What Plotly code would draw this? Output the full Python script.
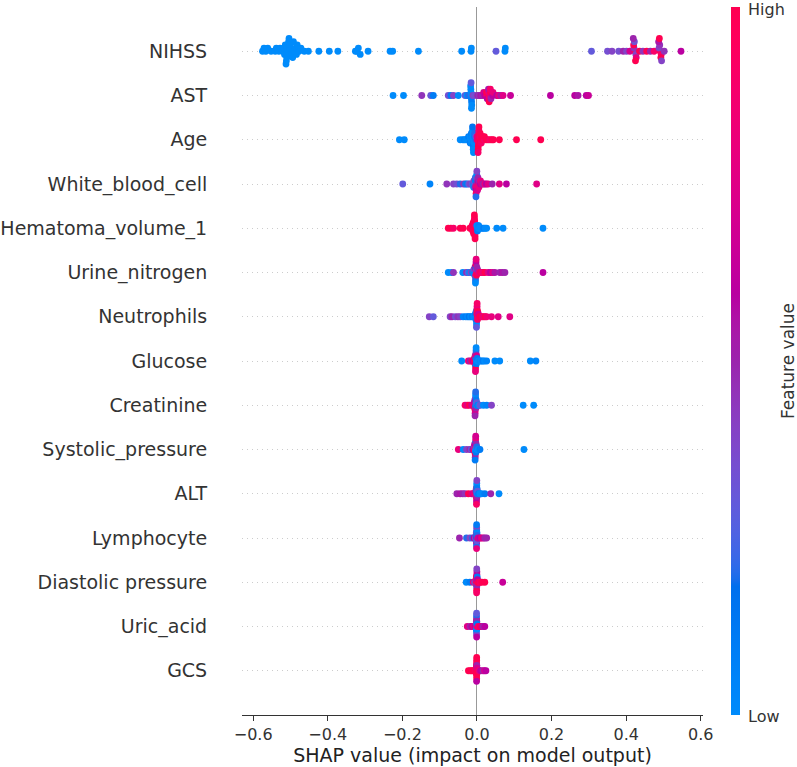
import numpy as np
import plotly.graph_objects as go

# ---------------- data ----------------
features = ["NIHSS", "AST", "Age", "White_blood_cell", "Hematoma_volume_1",
            "Urine_nitrogen", "Neutrophils", "Glucose", "Creatinine",
            "Systolic_pressure", "ALT", "Lymphocyte", "Diastolic pressure",
            "Uric_acid", "GCS"]

x_ticks = [-0.6, -0.4, -0.2, 0.0, 0.2, 0.4, 0.6]

nihss_shap = [-0.575, -0.571, -0.566, -0.561, -0.552, -0.541, -0.538, -0.531, -0.528,
              -0.521, -0.518, -0.516, -0.514,
              -0.508, -0.507, -0.509, -0.506, -0.510, -0.505, -0.511, -0.504, -0.512,
              -0.497, -0.499, -0.495, -0.501, -0.494, -0.492,
              -0.489, -0.486, -0.484, -0.482, -0.477, -0.472, -0.463, -0.452,
              -0.424, -0.396, -0.373, -0.326, -0.322, -0.318, -0.313, -0.292, -0.233, -0.226,
              -0.157, -0.041, -0.016, -0.015, 0.051, 0.075, 0.076,
              0.307, 0.350, 0.362, 0.380, 0.392, 0.401, 0.410,
              0.4236, 0.421, 0.426, 0.420, 0.427, 0.422, 0.425, 0.419,
              0.436, 0.445, 0.455, 0.465, 0.475,
              0.491, 0.488, 0.494, 0.490, 0.493, 0.487, 0.495, 0.489,
              0.502, 0.547]
nihss_val = [0, 0, 0, 0, 0, 0, 0, 0, 0,
             0, 0, 0, 0,
             0, 0, 0, 0, 0, 0, 0, 0, 0,
             0, 0, 0, 0, 0, 0,
             0, 0, 0, 0, 0, 0, 0, 0,
             0, 0, 0, 0, 0, 0, 0, 0, 0, 0,
             0, 0, 0, 0, 0.3, 0, 0,
             0.3, 0.35, 0.4, 0.35, 0.5, 0.4, 0.7,
             1.0, 0.45, 0.4, 1.0, 0.8, 0.35, 1.0, 0.5,
             1.0, 0.45, 1.0, 0.5, 0.9,
             1.0, 0.4, 0.9, 0.45, 1.0, 0.55, 0.4, 1.0,
             0.45, 0.6]

ast_shap = [-0.225, -0.197, -0.148, -0.124, -0.117, -0.077, -0.070, -0.063, -0.050, -0.032, -0.027, -0.023,
            -0.0154, -0.0160, -0.0150, -0.0165, -0.0145, -0.0170, -0.0140, -0.0158, -0.0148,
            -0.011, -0.007,
            0.002, 0.006, 0.010, 0.014, 0.018, 0.021,
            0.0265, 0.0255, 0.0275,
            0.0318, 0.0312, 0.0324, 0.0308, 0.0328,
            0.0370, 0.0365, 0.0375, 0.0360,
            0.0422, 0.0430,
            0.053, 0.058, 0.064, 0.070, 0.090, 0.197, 0.262, 0.271, 0.293, 0.299]
ast_val = [0.0, 0.0, 0.45, 0.3, 0.1, 0.35, 0.1, 0.4, 0.0, 0.3, 0.0, 0.2,
           0.0, 0.0, 0.05, 0.0, 0.1, 0.0, 0.0, 0.3, 0.0,
           0.4, 0.35,
           0.5, 0.45, 0.55, 0.5, 0.7, 0.6,
           0.9, 1.0, 0.6,
           1.0, 0.8, 0.9, 0.55, 1.0,
           0.7, 1.0, 0.5, 0.9,
           0.6, 0.8,
           0.6, 0.8, 0.55, 0.75, 0.65, 0.6, 0.6, 0.55, 0.6, 0.65]

age_shap = [-0.208, -0.195,
            -0.045, -0.038, -0.034, -0.030, -0.026,
            -0.0223, -0.0226,
            -0.0185, -0.0188, -0.0182,
            -0.0147, -0.0150, -0.0143, -0.0152,
            -0.0109, -0.0112, -0.0106, -0.0115, -0.0103, -0.0118, -0.0100, -0.0120, -0.0095,
            -0.0071, -0.0068, -0.0075, -0.0065,
            -0.0033, -0.0030,
            0.0005, 0.0000,
            0.0042, 0.0045, 0.0039, 0.0048, 0.0036, 0.0050, 0.0033, 0.0053, 0.0030,
            0.0080, 0.0083, 0.0078, 0.0086,
            0.0118, 0.0120, 0.0115,
            0.0155, 0.0160, 0.0195, 0.0200,
            0.025, 0.030, 0.035, 0.040, 0.044,
            0.060, 0.106, 0.171]
age_val = [0.0, 0.0,
           0.0, 0.0, 0.05, 0.0, 0.0,
           0.0, 0.1,
           0.0, 0.0, 0.1,
           0.0, 0.05, 0.0, 0.1,
           0.0, 0.0, 0.05, 0.0, 0.1, 0.0, 0.0, 0.15, 0.0,
           0.0, 0.1, 0.0, 0.2,
           0.2, 0.3,
           0.8, 0.7,
           1.0, 1.0, 0.9, 1.0, 1.0, 0.85, 1.0, 1.0, 0.9,
           1.0, 0.9, 1.0, 1.0,
           1.0, 1.0, 0.9,
           1.0, 1.0, 0.9, 1.0,
           1.0, 1.0, 0.9, 1.0, 1.0,
           1.0, 1.0, 1.0]

wbc_shap = [-0.199, -0.126, -0.081, -0.063, -0.054, -0.045, -0.036, -0.031, -0.027, -0.022, -0.018, -0.013,
            -0.0088, -0.0085, -0.0091,
            -0.0050, -0.0047, -0.0053, -0.0044,
            -0.0015, -0.0012, -0.0018, -0.0009, -0.0021, -0.0006, -0.0024, -0.0003, -0.0027,
            0.0020, 0.0023, 0.0017, 0.0026, 0.0014,
            0.0056, 0.0059, 0.0053,
            0.0092, 0.0095,
            0.013, 0.017, 0.021, 0.025, 0.030,
            0.041, 0.060, 0.079, 0.160]
wbc_val = [0.3, 0.05, 0.45, 0.4, 0.35, 0.2, 0.45, 0.2, 0.1, 0.3, 0.4, 0.3,
           0.2, 0.4, 0.0,
           0.3, 0.1, 0.5, 0.2,
           0.5, 0.1, 0.8, 0.3, 0.6, 0.0, 0.9, 0.4, 0.2,
           0.8, 0.6, 0.9, 0.5, 0.7,
           0.7, 0.5, 0.8,
           0.6, 0.8,
           0.7, 0.5, 0.8, 0.6, 0.75,
           0.5, 0.75, 0.6, 0.75]

hem_shap = [-0.077, -0.070, -0.063, -0.045, -0.037,
            -0.019, -0.016,
            -0.0135, -0.0132,
            -0.0110, -0.0107, -0.0113, -0.0104,
            -0.0085, -0.0082, -0.0088, -0.0079, -0.0091, -0.0076,
            -0.0059, -0.0061, -0.0057, -0.0063, -0.0055, -0.0065, -0.0053, -0.0067, -0.0051, -0.0069,
            -0.0033, -0.0030, -0.0036,
            -0.0008, -0.0005,
            0.0017, 0.0020, 0.0014,
            0.0043, 0.0046,
            0.0070, 0.010, 0.014, 0.018, 0.022, 0.026,
            0.053, 0.070, 0.177]
hem_val = [1.0, 1.0, 0.9, 1.0, 1.0,
           1.0, 1.0,
           1.0, 0.9,
           1.0, 1.0, 0.9, 1.0,
           1.0, 1.0, 0.95, 1.0, 1.0, 0.9,
           1.0, 1.0, 1.0, 0.9, 1.0, 1.0, 1.0, 0.95, 1.0, 1.0,
           1.0, 0.8, 1.0,
           0.9, 0.0,
           0.0, 0.0, 0.1,
           0.0, 0.05,
           0.0, 0.0, 0.0, 0.1, 0.0, 0.0,
           0.0, 0.0, 0.0]

urine_shap = [-0.077, -0.068, -0.063, -0.038, -0.028, -0.024, -0.020, -0.016, -0.012,
              -0.0085, -0.0088,
              -0.0060, -0.0057, -0.0063, -0.0054,
              -0.0033, -0.0031, -0.0035, -0.0029, -0.0037, -0.0027, -0.0039, -0.0025, -0.0041, -0.0023,
              -0.0008, -0.0006, -0.0010, -0.0004,
              0.0017, 0.0020,
              0.006, 0.010, 0.013, 0.017, 0.021, 0.030, 0.036, 0.042, 0.048, 0.061, 0.068, 0.075, 0.177]
urine_val = [0.0, 0.0, 0.45, 0.0, 0.5, 0.3, 0.0, 0.4, 0.2,
             0.0, 0.3,
             0.1, 0.4, 0.0, 0.6,
             0.0, 0.5, 0.9, 0.1, 0.4, 1.0, 0.2, 0.6, 0.0, 0.8,
             0.8, 0.3, 1.0, 0.5,
             0.9, 0.5,
             0.8, 1.0, 0.9, 0.8, 1.0, 0.75, 0.6, 0.75, 0.55, 0.5, 0.55, 0.5, 0.6]

neut_shap = [-0.128, -0.117, -0.072, -0.067, -0.058, -0.051, -0.045, -0.037, -0.030, -0.025, -0.021, -0.017, -0.013, -0.009,
             -0.0049, -0.0046,
             -0.0027, -0.0025, -0.0029, -0.0023,
             -0.0006, -0.0004, -0.0008, -0.0002, -0.0010, 0.0000, -0.0012, 0.0002, -0.0014, 0.0004,
             0.0016, 0.0018, 0.0014, 0.0020,
             0.0038, 0.0040,
             0.007, 0.010, 0.014, 0.018, 0.022, 0.026,
             0.039, 0.057, 0.088]
neut_val = [0.4, 0.3, 0.4, 0.5, 0.35, 0.45, 0.4, 0.05, 0.1, 0.0, 0.15, 0.0, 0.1, 0.0,
            0.0, 0.1,
            0.0, 0.1, 0.2, 0.0,
            0.0, 1.0, 0.1, 0.9, 0.2, 1.0, 0.0, 0.8, 0.3, 0.9,
            1.0, 0.8, 0.9, 1.0,
            0.9, 0.7,
            1.0, 1.0, 0.9, 0.8, 1.0, 0.85,
            0.8, 0.75, 0.75]

glu_shap = [-0.041, -0.023, -0.018, -0.014, -0.010,
            -0.0072, -0.0070,
            -0.0052, -0.0050, -0.0055, -0.0048,
            -0.0032, -0.0030, -0.0034, -0.0028, -0.0036, -0.0026, -0.0038, -0.0024, -0.0040, -0.0023,
            -0.0012, -0.0010, -0.0014, -0.0009,
            0.0008, 0.0006,
            0.004, 0.008, 0.012, 0.016, 0.020, 0.026, 0.048, 0.061, 0.143, 0.158]
glu_val = [0.0, 0.8, 0.5, 0.9, 0.6,
           0.8, 1.0,
           0.9, 0.6, 1.0, 0.5,
           1.0, 0.1, 0.6, 0.9, 0.0, 0.5, 1.0, 0.2, 0.8, 0.0,
           0.0, 0.2, 0.1, 0.7,
           0.0, 0.1,
           0.0, 0.05, 0.0, 0.1, 0.0, 0.05, 0.0, 0.0, 0.0, 0.05]

cre_shap = [-0.032, -0.026, -0.021, -0.014, -0.010,
            -0.0080, -0.0078,
            -0.0062, -0.0060, -0.0064, -0.0058,
            -0.0044, -0.0042, -0.0046, -0.0040, -0.0048, -0.0038, -0.0050, -0.0037, -0.0052, -0.0036,
            -0.0026, -0.0024, -0.0028, -0.0022,
            -0.0008, -0.0006,
            0.002, 0.005, 0.008, 0.017, 0.026, 0.039, 0.124, 0.152]
cre_val = [0.9, 0.75, 1.0, 0.7, 0.8,
           0.9, 0.7,
           0.8, 0.6, 1.0, 0.4,
           0.5, 0.8, 0.1, 0.6, 0.9, 0.3, 0.7, 0.0, 0.5, 0.2,
           0.2, 0.0, 0.5, 0.1,
           0.0, 0.3,
           0.1, 0.0, 0.3, 0.0, 0.05, 0.4, 0.0, 0.0]

sys_shap = [-0.050, -0.037, -0.028, -0.019, -0.015, -0.011,
            -0.0077, -0.0079,
            -0.0059, -0.0061, -0.0057, -0.0063,
            -0.0042, -0.0040, -0.0044, -0.0038, -0.0046, -0.0036, -0.0048, -0.0035, -0.0050, -0.0034,
            -0.0024, -0.0022, -0.0026, -0.0020,
            -0.0007, -0.0005,
            0.003, 0.008, 0.126]
sys_val = [0.8, 0.0, 0.4, 0.5, 0.3, 0.6,
           0.9, 0.5,
           0.8, 0.4, 1.0, 0.6,
           0.3, 0.9, 0.0, 0.6, 1.0, 0.2, 0.5, 0.8, 0.1, 0.7,
           0.0, 0.3, 0.1, 0.5,
           0.0, 0.2,
           0.0, 0.1, 0.0]

alt_shap = [-0.054, -0.045, -0.038, -0.032, -0.023, -0.014, -0.010, -0.006,
            -0.0031, -0.0032,
            -0.0020, -0.0019, -0.0021, -0.0018,
            -0.0009, -0.0008, -0.0010, -0.0007, -0.0011, -0.0006, -0.0012, -0.0005, -0.0013, -0.0004,
            0.0002, 0.0001, 0.0003, 0.0000,
            0.0013, 0.0014,
            0.004, 0.008, 0.012, 0.021, 0.037, 0.059]
alt_val = [0.5, 0.55, 0.5, 0.45, 1.0, 0.8, 0.7, 0.9,
           0.8, 0.5,
           0.9, 0.6, 0.3, 1.0,
           0.5, 0.0, 0.8, 0.3, 1.0, 0.1, 0.6, 0.0, 0.9, 0.4,
           0.0, 0.2, 0.5, 0.1,
           0.0, 0.3,
           0.1, 0.0, 0.0, 0.1, 0.5, 0.0]

lym_shap = [-0.047, -0.028, -0.019, -0.012, -0.008, -0.004,
            -0.0025, -0.0024,
            -0.0017, -0.0018, -0.0016, -0.0019,
            -0.0010, -0.0009, -0.0011, -0.0008, -0.0012, -0.0007, -0.0013, -0.0009, -0.0011, -0.0010,
            -0.0003, -0.0002, -0.0004, -0.0001,
            0.0004, 0.0005,
            0.003, 0.008, 0.012, 0.017, 0.021, 0.026]
lym_val = [0.5, 0.2, 0.4, 0.2, 0.6, 0.3,
           0.4, 0.0,
           0.0, 0.5, 0.2, 0.7,
           0.1, 0.5, 0.0, 0.3, 0.6, 0.0, 0.2, 0.4, 0.8, 0.1,
           0.6, 0.1, 0.3, 0.0,
           0.5, 0.2,
           0.7, 0.6, 0.8, 0.7, 0.5, 0.5]

dia_shap = [-0.029, -0.019, -0.010, -0.006,
            -0.0025, -0.0026,
            -0.0015, -0.0016, -0.0014, -0.0017,
            -0.0006, -0.0005, -0.0007, -0.0004, -0.0008, -0.0003, -0.0009, -0.0002, -0.0010, -0.0006,
            0.0004, 0.0005, 0.0003, 0.0006,
            0.0014, 0.0013,
            0.004, 0.008, 0.013, 0.021, 0.069]
dia_val = [0.0, 0.1, 0.8, 0.3,
           0.9, 1.0,
           1.0, 0.7, 0.2, 0.9,
           1.0, 0.5, 0.9, 1.0, 0.3, 0.8, 1.0, 0.6, 0.9, 0.4,
           0.8, 1.0, 0.5, 0.1,
           1.0, 0.6,
           1.0, 0.9, 1.0, 1.0, 0.65]

uric_shap = [-0.026, -0.018, -0.014, -0.009, -0.005,
             -0.0021, -0.0020,
             -0.0016, -0.0015, -0.0017, -0.0016,
             -0.0011, -0.0010, -0.0012, -0.0009, -0.0013, -0.0011, -0.0010, -0.0012, -0.0009, -0.0011,
             -0.0006, -0.0005, -0.0007, -0.0006,
             -0.0001, 0.0000,
             0.003, 0.008, 0.013, 0.017, 0.021]
uric_val = [0.75, 0.5, 0.6, 0.8, 0.6,
            0.8, 0.4,
            0.5, 0.2, 0.8, 0.0,
            0.3, 0.7, 0.1, 0.5, 0.0, 0.8, 0.4, 0.2, 0.6, 0.3,
            0.7, 0.3, 0.0, 0.5,
            0.9, 0.1,
            0.8, 1.0, 0.7, 0.5, 0.6]

gcs_shap = [-0.023, -0.018, -0.014, -0.010, -0.007, -0.004,
            -0.0018, -0.0019,
            -0.0014, -0.0013, -0.0015, -0.0014,
            -0.0009, -0.0009, -0.0010, -0.0008, -0.0009, -0.0010, -0.0008, -0.0009, -0.0010, -0.0008,
            -0.0004, -0.0005, -0.0003, -0.0004,
            0.0001, 0.0000,
            0.003, 0.006, 0.010, 0.016, 0.020, 0.024]
gcs_val = [1.0, 1.0, 1.0, 1.0, 1.0, 0.9,
           1.0, 1.0,
           1.0, 1.0, 1.0, 0.9,
           1.0, 1.0, 0.95, 1.0, 1.0, 0.9, 1.0, 1.0, 0.6, 1.0,
           1.0, 0.9, 1.0, 0.5,
           1.0, 0.7,
           1.0, 0.8, 0.6, 0.5, 0.7, 0.6]

shap_rows = [nihss_shap, ast_shap, age_shap, wbc_shap, hem_shap, urine_shap, neut_shap,
             glu_shap, cre_shap, sys_shap, alt_shap, lym_shap, dia_shap, uric_shap, gcs_shap]
value_rows = [nihss_val, ast_val, age_val, wbc_val, hem_val, urine_val, neut_val,
              glu_val, cre_val, sys_val, alt_val, lym_val, dia_val, uric_val, gcs_val]


# ---------------- SHAP red_blue colormap (LCH interpolation) ----------------
def lch2rgb(L, C, h):
    a = C * np.cos(h)
    b = C * np.sin(h)
    fy = (L + 16.0) / 116.0
    fx = fy + a / 500.0
    fz = fy - b / 200.0

    def finv(t):
        return t ** 3 if t > 0.2068966 else (t - 16.0 / 116.0) / 7.787

    X, Y, Z = 0.95047 * finv(fx), 1.0 * finv(fy), 1.08883 * finv(fz)
    m = np.array([[3.24048134, -1.53715152, -0.49853633],
                  [-0.96925495, 1.87599, 0.04155593],
                  [0.05564664, -0.20404134, 1.05731107]])
    rgb = m @ np.array([X, Y, Z])
    out = np.where(rgb > 0.0031308, 1.055 * np.power(np.clip(rgb, 1e-12, None), 1 / 2.4) - 0.055, 12.92 * rgb)
    return np.clip(out, 0, 1)


blue_lch = [54., 70., 4.6588]
red_lch = [54., 90., 0.35470565 + 2 * np.pi]
l_mid = 40.
nsteps = 100
l_vals = list(np.linspace(blue_lch[0], l_mid, nsteps // 2)) + list(np.linspace(l_mid, red_lch[0], nsteps // 2))
c_vals = np.linspace(blue_lch[1], red_lch[1], nsteps)
h_vals = np.linspace(blue_lch[2], red_lch[2], nsteps)
colorscale = []
for pos, l, c, h in zip(np.linspace(0, 1, nsteps), l_vals, c_vals, h_vals):
    r, g, b = lch2rgb(l, c, h)
    colorscale.append([float(pos), "rgb(%d,%d,%d)" % (round(r * 255), round(g * 255), round(b * 255))])


# ---------------- beeswarm layout (shap algorithm) ----------------
def beeswarm(vals, row_height=0.4, nbins=100):
    vals = np.asarray(vals, float)
    n = len(vals)
    quant = np.round(nbins * (vals - vals.min()) / (vals.max() - vals.min() + 1e-8))
    inds = np.argsort(quant, kind="stable")
    layer = 0
    last_bin = -1
    ys = np.zeros(n)
    for ind in inds:
        if quant[ind] != last_bin:
            layer = 0
        ys[ind] = np.ceil(layer / 2) * ((layer % 2) * 2 - 1)
        layer += 1
        last_bin = quant[ind]
    ys *= 0.9 * (row_height / np.max(ys + 1))
    return ys


n_feat = len(features)
xs, ys, cs = [], [], []
for i, (sv, fv) in enumerate(zip(shap_rows, value_rows)):
    pos = n_feat - 1 - i
    off = beeswarm(sv)
    xs.extend(sv)
    ys.extend(list(pos + off))
    cs.extend(fv)

fig = go.Figure()
fig.add_trace(go.Scatter(
    x=xs, y=ys, mode="markers",
    marker=dict(size=6.8, color=cs, colorscale=colorscale, cmin=0, cmax=1,
                line=dict(width=0), opacity=1,
                showscale=True,
                colorbar=dict(thickness=9, lenmode="pixels", len=708,
                              y=0.5, yanchor="middle", x=1.0607, xanchor="left",
                              xpad=0, ypad=0, outlinewidth=0,
                              tickvals=[0, 1], ticks="", showticklabels=False)),
    hoverinfo="x", showlegend=False))

fig.update_layout(
    width=797, height=767,
    margin=dict(l=242, r=94, t=7, b=52, autoexpand=False),
    plot_bgcolor="white", paper_bgcolor="white",
    font=dict(family="DejaVu Sans", color="#333333"),
    xaxis=dict(range=[-0.630, 0.606], tickvals=x_ticks, tickformat=".1f",
               automargin=False,
               ticks="outside", ticklen=5, tickwidth=1, tickcolor="#333333",
               tickfont=dict(size=16, color="#333333"),
               showline=True, linecolor="#333333", linewidth=1,
               showgrid=False, zeroline=True, zerolinecolor="#999999", zerolinewidth=1.4,
               title=dict(text="SHAP value (impact on model output)",
                          font=dict(size=19, color="#222222"), standoff=5)),
    yaxis=dict(range=[-1, n_feat], tickvals=list(range(n_feat)),
               ticktext=list(reversed(features)), automargin=False,
               tickfont=dict(size=19, color="#333333"),
               ticks="outside", ticklen=30, tickcolor="rgba(0,0,0,0)",
               showline=False, zeroline=False,
               showgrid=True, gridcolor="#cccccc", gridwidth=0.7, griddash="1px,4px"),
    annotations=[
        dict(text="Feature value", x=1.1845, y=0.5, xref="paper", yref="paper",
             textangle=-90, showarrow=False, xanchor="center", yanchor="middle",
             font=dict(size=17, color="#333333")),
        dict(text="High", x=1.0933, y=0.997, xref="paper", yref="paper",
             showarrow=False, xanchor="left", yanchor="middle",
             font=dict(size=16, color="#333333")),
        dict(text="Low", x=1.0933, y=-0.0015, xref="paper", yref="paper",
             showarrow=False, xanchor="left", yanchor="middle",
             font=dict(size=16, color="#333333")),
    ],
)

fig.write_html("out.html", config={"displayModeBar": False},
               post_script="document.body.style.margin='0';document.body.style.padding='0';"
                           "document.documentElement.style.overflow='hidden';")
